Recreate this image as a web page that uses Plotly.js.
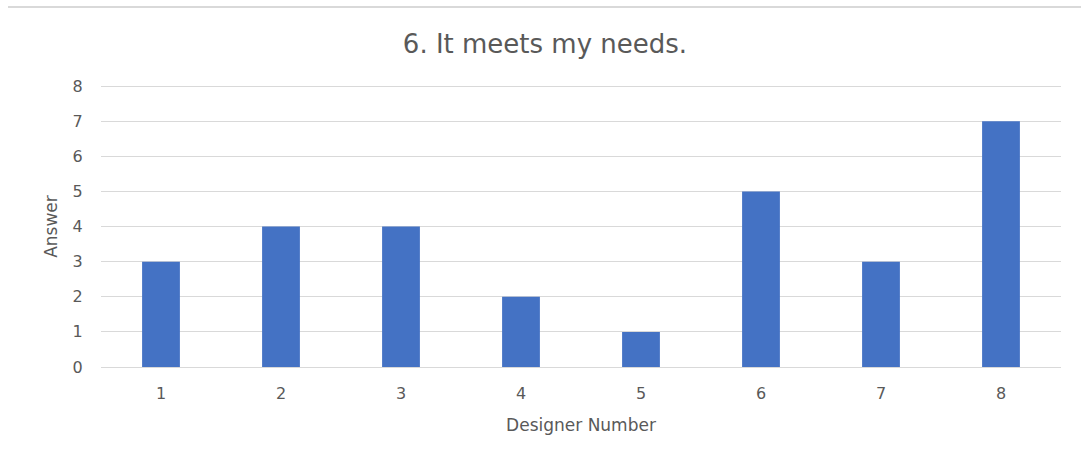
<!DOCTYPE html>
<html>
<head>
<meta charset="utf-8">
<script src="https://cdn.plot.ly/plotly-3.0.1.min.js"></script>
<style>
  html, body { margin: 0; padding: 0; background: #ffffff; }
  #chart { width: 1081px; height: 461px; }
  #chart .shapelayer path { shape-rendering: crispEdges; }
</style>
</head>
<body>
<div id="chart"></div>
<script>
// Survey question 6: answer given by each designer
const designers = ['1', '2', '3', '4', '5', '6', '7', '8'];
const answers = [3, 4, 4, 2, 1, 5, 3, 7];
const yTicks = [0, 1, 2, 3, 4, 5, 6, 7, 8];
const yMax = 8;

const textGray = '#595959';
const gridGray = '#d9d9d9';
const fontFamily = '"DejaVu Sans", "Open Sans", sans-serif';

const trace = {
  type: 'bar',
  x: designers,
  y: answers,
  marker: { color: '#4472c4', line: { width: 0 } },
  hoverinfo: 'x+y'
};

const layout = {
  width: 1081,
  height: 461,
  margin: { l: 101, r: 20, t: 86, b: 94, pad: 0 },
  paper_bgcolor: '#ffffff',
  plot_bgcolor: '#ffffff',
  font: { family: fontFamily, color: textGray },
  bargap: 0.685,
  showlegend: false,
  title: {
    text: '6. It meets my needs.',
    font: { size: 26, color: textGray, family: fontFamily },
    x: 545 / 1081, xanchor: 'center',
    xref: 'container',
    y: 1 - 44 / 461, yanchor: 'middle', yref: 'container'
  },
  xaxis: {
    type: 'category',
    tickfont: { size: 16, color: textGray },
    showgrid: false,
    showline: true,
    linecolor: gridGray,
    linewidth: 1,
    ticks: 'outside',
    ticklen: 12,
    tickcolor: 'rgba(0,0,0,0)',
    title: {
      text: 'Designer Number',
      font: { size: 17, color: textGray },
      standoff: 16
    }
  },
  yaxis: {
    range: [0, yMax],
    tickvals: yTicks,
    ticktext: yTicks.map(String),
    tickfont: { size: 16, color: textGray },
    showgrid: true,
    gridcolor: gridGray,
    gridwidth: 1,
    zeroline: false,
    showline: false,
    ticks: 'outside',
    ticklen: 14,
    tickcolor: 'rgba(0,0,0,0)',
    title: {
      text: 'Answer',
      font: { size: 17, color: textGray },
      standoff: 10
    }
  },
  shapes: [
    {
      // gridline along the top of the value range
      type: 'line', layer: 'below',
      xref: 'paper', yref: 'y',
      x0: 0, x1: 1, y0: yMax, y1: yMax,
      line: { color: gridGray, width: 1 }
    },
    {
      // rule across the top of the page
      type: 'line',
      xref: 'paper', yref: 'paper',
      x0: -0.097, x1: 1.03,
      y0: 1.281, y1: 1.281,
      line: { color: gridGray, width: 2 }
    }
  ]
};

Plotly.newPlot('chart', [trace], layout, { displayModeBar: false, staticPlot: true });
</script>
</body>
</html>
